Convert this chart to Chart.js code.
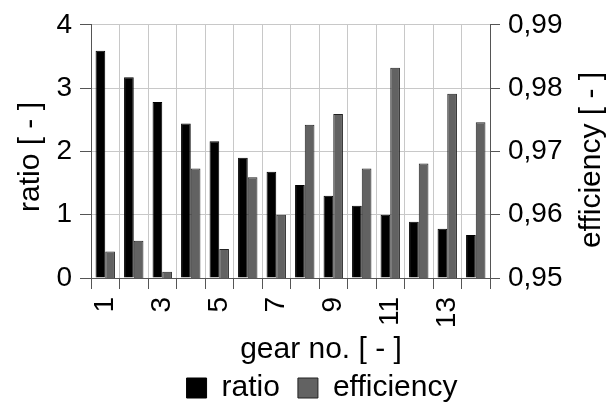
<!DOCTYPE html>
<html>
<head>
<meta charset="utf-8">
<script src="https://cdn.jsdelivr.net/npm/chart.js@4"></script>
<style>html,body{margin:0;background:#fff}</style>
</head>
<body>
<canvas id="c" width="608" height="403"></canvas>
<script>
const gears = ["1","2","3","4","5","6","7","8","9","10","11","12","13","14"];
const ratio = [3.59, 3.17, 2.78, 2.44, 2.16, 1.90, 1.68, 1.47, 1.30, 1.14, 1.00, 0.89, 0.78, 0.68];
const efficiency = [0.9542, 0.9559, 0.9510, 0.9673, 0.9546, 0.9659, 0.9600, 0.9742, 0.9759, 0.9673, 0.9832, 0.9681, 0.9791, 0.9746];

const FONT = "'Liberation Sans', Arial, sans-serif";
const gridCol = "#c8c8c8";
const axisCol = "#555";

// axis titles are drawn by hand so they can sit where the original has them
const axisTitles = {
  id: "axisTitles",
  afterDraw(chart) {
    const ctx = chart.ctx;
    const put = (text, x, y, rot) => {
      ctx.save();
      ctx.translate(x, y);
      ctx.rotate(rot);
      ctx.font = "30px " + FONT;
      ctx.fillStyle = "#000";
      ctx.textAlign = "center";
      ctx.textBaseline = "middle";
      ctx.fillText(text, 0, 0);
      ctx.restore();
    };
    put("ratio [ - ]", 31, 157, -Math.PI / 2);
    put("efficiency [ - ]", 592, 160, -Math.PI / 2);
    put("gear no. [ - ]", 321, 350, 0);
  }
};

new Chart(document.getElementById("c"), {
  type: "bar",
  data: {
    labels: gears,
    datasets: [
      {
        label: "ratio",
        data: ratio,
        backgroundColor: "#000",
        borderColor: "#000",
        borderWidth: 1,
        yAxisID: "y",
        categoryPercentage: 0.68,
        barPercentage: 1
      },
      {
        label: "efficiency",
        data: efficiency,
        backgroundColor: "#626262",
        borderColor: "#222",
        borderWidth: 1,
        yAxisID: "y2",
        categoryPercentage: 0.68,
        barPercentage: 1
      }
    ]
  },
  options: {
    responsive: false,
    animation: false,
    layout: { padding: { left: 8, right: -28, top: 14, bottom: -10 } },
    plugins: {
      legend: {
        position: "bottom",
        labels: {
          boxWidth: 20, boxHeight: 20, padding: 18,
          color: "#000",
          font: { family: FONT, size: 30 }
        }
      },
      tooltip: { enabled: false }
    },
    scales: {
      x: {
        grid: { offset: true, color: gridCol, tickColor: axisCol, tickLength: 11 },
        border: { color: axisCol },
        ticks: {
          autoSkip: false, minRotation: 90, maxRotation: 90,
          color: "#000", padding: 8,
          font: { family: FONT, size: 28 },
          callback: (v, i) => i % 2 === 0 ? gears[i] : ""
        },
        afterFit: s => { s.height = 77; }
      },
      y: {
        position: "left",
        min: 0, max: 4,
        grid: { color: gridCol, tickColor: axisCol, tickLength: 11 },
        border: { color: axisCol },
        ticks: { stepSize: 1, color: "#000", padding: 8, font: { family: FONT, size: 28 } },
        afterFit: s => { s.width = 83; }
      },
      y2: {
        position: "right",
        min: 0.95, max: 0.99,
        grid: { drawOnChartArea: false, tickColor: axisCol, tickLength: 10 },
        border: { color: axisCol },
        ticks: {
          stepSize: 0.01, color: "#000", padding: 8,
          font: { family: FONT, size: 28 },
          callback: v => v.toFixed(2).replace(".", ",")
        },
        afterFit: s => { s.width = 146; }
      }
    }
  },
  plugins: [axisTitles]
});
</script>
</body>
</html>
